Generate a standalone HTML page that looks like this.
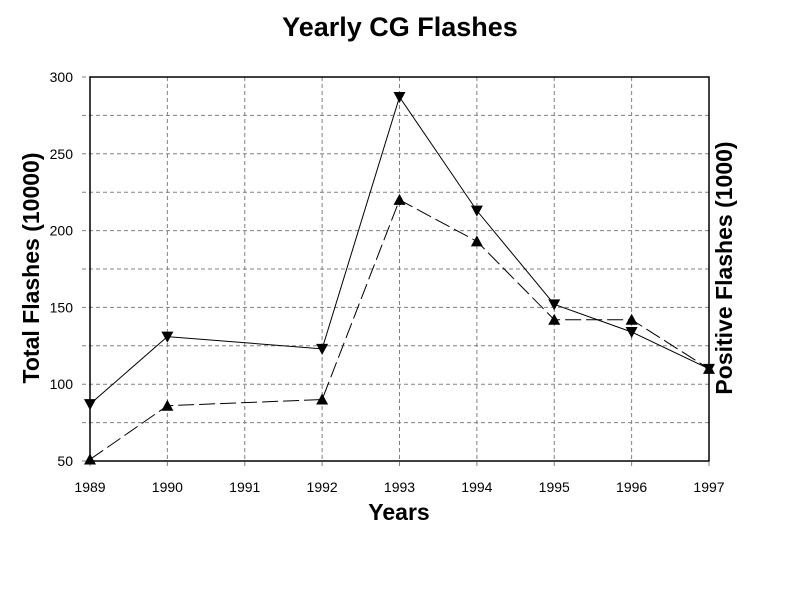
<!DOCTYPE html>
<html><head><meta charset="utf-8"><style>body{margin:0;background:#fff}svg{display:block;font-family:"Liberation Sans",Arial,sans-serif}</style></head>
<body>
<svg id="chart" width="800" height="600" xmlns="http://www.w3.org/2000/svg">
<text x="400" y="36" text-anchor="middle" font-size="27" font-weight="bold">Yearly CG Flashes</text>
<text transform="translate(39,268) rotate(-90)" text-anchor="middle" font-size="23" font-weight="bold">Total Flashes (10000)</text>
<text transform="translate(732,268) rotate(-90)" text-anchor="middle" font-size="23" font-weight="bold">Positive Flashes (1000)</text>
<text x="399" y="520" text-anchor="middle" font-size="23" font-weight="bold">Years</text>
<g id="grid"></g>
<g id="marks"></g>
</svg>
<script>
const years = [1989,1990,1991,1992,1993,1994,1995,1996,1997];
const yTicks = [50,100,150,200,250,300];
const totalYears = [1989,1990,1992,1993,1994,1995,1996,1997];
const totalValues = [87,131,123,287,213,152,134,110];
const positiveYears = [1989,1990,1992,1993,1994,1995,1996,1997];
const positiveValues = [51,86,90,220,193,142,142,110];
const NS='http://www.w3.org/2000/svg';
const L=90,R=709,T=77,B=461;
const xs=y=>L+(y-1989)/(1997-1989)*(R-L);
const ys=v=>B-(v-50)/250*(B-T);
function mk(tag,attrs,parent){const e=document.createElementNS(NS,tag);for(const k in attrs)e.setAttribute(k,attrs[k]);parent.appendChild(e);return e;}
const g=document.getElementById('grid'),m=document.getElementById('marks');
for(let v=50;v<=300;v+=25){const y=ys(v);
 const ln=mk('line',{x1:82,x2:R,y1:y,y2:y,stroke:'#808080','stroke-dasharray':'4,3'},g);
 
 }
years.forEach(yr=>{const x=xs(yr);
 const ln=mk('line',{x1:x,x2:x,y1:T,y2:B+8,stroke:'#808080','stroke-dasharray':'4,3'},g);
 
 
 const t=mk('text',{x:x,y:B+31,'text-anchor':'middle','font-size':'14'},g);t.textContent=yr;
 
 });
yTicks.forEach(v=>{const t=mk('text',{x:73,y:ys(v)+5,'text-anchor':'end','font-size':'14'},g);t.textContent=v;
 
 });
const fr=mk('rect',{x:L,y:T,width:R-L,height:B-T,fill:'none',stroke:'#000','stroke-width':1.5},g);


function series(xv,yv,dash,up,name){
 const pts=xv.map((x,i)=>xs(x)+','+ys(yv[i])).join(' ');
 const pl=mk('polyline',{points:pts,fill:'none',stroke:'#000','stroke-width':1,'stroke-dasharray':dash},m);
 
 
 xv.forEach((x,i)=>{const cx=xs(x),cy=ys(yv[i]);
  const p=up?`${cx-6},${cy+5} ${cx+6},${cy+5} ${cx},${cy-6}`:`${cx-6},${cy-5} ${cx+6},${cy-5} ${cx},${cy+6}`;
  const mkr=mk('polygon',{points:p,fill:'#000'},m);
  
  });
}
series(totalYears,totalValues,'none',false,'total-flashes');
series(positiveYears,positiveValues,'16,5',true,'positive-flashes');
</script>
</body></html>
